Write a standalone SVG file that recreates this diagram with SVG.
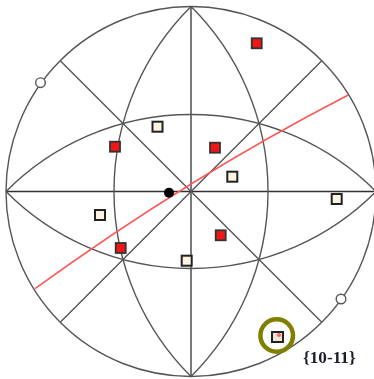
<svg xmlns="http://www.w3.org/2000/svg" width="374" height="379" viewBox="0 0 374 379">
<style>
.l{fill:none;stroke:#555;stroke-width:1.4}
.k{fill:none;stroke:#333;stroke-width:1.3}
.r{fill:#f01818;stroke:#333;stroke-width:1.8}
.c{fill:#fdf5e2;stroke:#222;stroke-width:2}
.o{fill:#fff;stroke:#555;stroke-width:1.4}
</style>
<defs><filter id="b" x="-5%" y="-5%" width="110%" height="110%"><feGaussianBlur stdDeviation="0.35"/></filter></defs>
<g id="connectors" filter="url(#b)">
<circle class="l" cx="191" cy="191.5" r="185"/>
<path class="k" d="M6 191.5H376M191 6.5V376.5"/>
<path class="l" d="M60.500 61L321.500 322M60.500 322L321.500 61"/>
<path class="l" d="M191 6.500A260.700 260.700 0 0 0 191 376.500M191 6.500A260.700 260.700 0 0 1 191 376.500"/>
<path class="l" d="M6 191.500A260.700 260.700 0 0 1 376 191.500M6 191.500A260.700 260.700 0 0 0 376 191.500"/>
<path fill="none" stroke="#f55" stroke-width="1.5" d="M35 288.700Q189 177 348.300 95"/>
</g>
<g id="poles" filter="url(#b)">
<circle class="o" cx="40.500" cy="82.700" r="4.800"/>
<circle class="o" cx="341" cy="299" r="4.800"/>
<circle cx="169" cy="192.700" r="5" fill="#000"/>
</g>
<g id="red-points" filter="url(#b)">
<rect class="r" x="251.700" y="38.300" width="10" height="10"/>
<rect class="r" x="110" y="141.700" width="10" height="10"/>
<rect class="r" x="210" y="142.700" width="10" height="10"/>
<rect class="r" x="215.700" y="230.300" width="10" height="10"/>
<rect class="r" x="115.700" y="243" width="10" height="10"/>
</g>
<g id="cream-points" filter="url(#b)">
<rect class="c" x="152.500" y="121.700" width="10" height="10"/>
<rect class="c" x="227.300" y="171.700" width="10" height="10"/>
<rect class="c" x="331.700" y="194" width="10" height="10"/>
<rect class="c" x="95" y="210" width="10" height="10"/>
<rect class="c" x="181.700" y="255.700" width="10" height="10"/>
<rect class="c" x="272" y="332" width="11" height="10" stroke-width="2.400" style="fill:#f3e4d8;stroke:#222"/>
<circle cx="279" cy="335" r="2" fill="#f66"/>
</g>
<g id="highlight" filter="url(#b)">
<circle cx="276.700" cy="335.500" r="16.300" fill="none" stroke="#808000" stroke-width="4.500"/>
<text x="303" y="363" font-family="Liberation Serif, serif" font-size="17.200" font-weight="bold" fill="#1a1f2e">{10-11}</text>
</g>
</svg>
